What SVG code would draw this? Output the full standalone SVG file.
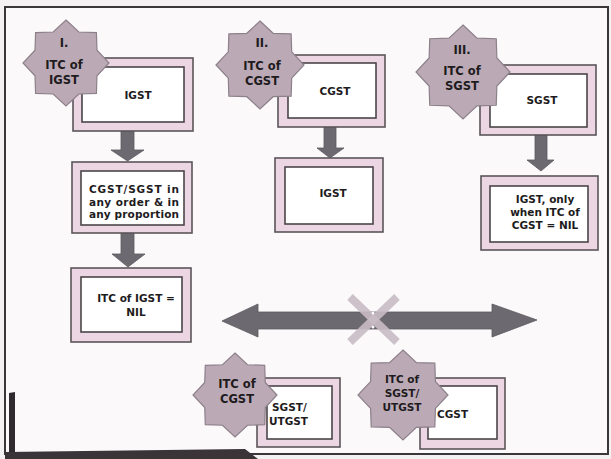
<svg xmlns="http://www.w3.org/2000/svg" width="611" height="459" viewBox="0 0 611 459">
<defs>
<style>
.bg{fill:#f4f1f3}
.frame{fill:#fcf9fb;stroke:#3a3639;stroke-width:2}
.outer{fill:#edd6e3;stroke:#5a5559;stroke-width:1.6}
.inner{fill:#ffffff;stroke:#4a4549;stroke-width:1.6}
.star{fill:#bba9b6}
.arrow{fill:#6d6970;stroke:#5c585e;stroke-width:0.8}
.t{font-family:"DejaVu Sans","Noto Sans","Liberation Sans",Arial,sans-serif;font-weight:bold;font-size:10.5px;fill:#1e1b1d;text-anchor:middle}
.st{font-family:"DejaVu Sans","Noto Sans","Liberation Sans",Arial,sans-serif;font-weight:bold;font-size:11.5px;fill:#1e1b1d;text-anchor:middle}
.tl{font-family:"DejaVu Sans","Noto Sans","Liberation Sans",Arial,sans-serif;font-weight:bold;font-size:10.5px;fill:#1e1b1d}
.x{stroke:#c9bcc5;stroke-width:8;stroke-linecap:butt;opacity:0.9}
</style>
<path id="star" stroke="#8c8089" stroke-width="1.2" vector-effect="non-scaling-stroke" d="M0,-1 L0.2985,-0.7206 L0.7071,-0.7071 L0.7206,-0.2985 L1,0 L0.7206,0.2985 L0.7071,0.7071 L0.2985,0.7206 L0,1 L-0.2985,0.7206 L-0.7071,0.7071 L-0.7206,0.2985 L-1,0 L-0.7206,-0.2985 L-0.7071,-0.7071 L-0.2985,-0.7206 Z"/>
</defs>
<rect class="bg" x="0" y="0" width="611" height="459"/>
<rect class="frame" x="5" y="7" width="603" height="447"/>
<path d="M9,393 L15,392 L15,455 L9,455 Z" fill="#2f2a2e"/>
<path d="M5,452 L245,449 L258,459 L5,459 Z" fill="#3a3438"/>

<g id="connectors">
<path class="arrow" d="M121,131 L134,131 L134,150 L144,150 L127.5,161 L111,150 L121,150 Z"/>
<path class="arrow" d="M121,233 L134,233 L134,254 L145,254 L128,267 L112,254 L121,254 Z"/>
<path class="arrow" d="M324,127 L336,127 L336,148 L344,148 L330,158 L317,148 L324,148 Z"/>
<path class="arrow" d="M535,135 L547,135 L547,160 L554,160 L541,171 L527,160 L535,160 Z"/>
<path class="arrow" d="M222,321 L258,304 L258,312 L492,312 L492,304 L537,320 L492,337 L492,329 L258,329 L258,337 Z"/>
<g id="cross">
<line class="x" x1="350" y1="297" x2="397" y2="342"/>
<line class="x" x1="397" y1="297" x2="350" y2="342"/>
<circle cx="373" cy="313" r="1.5" fill="#ffffff"/>
<circle cx="373" cy="327" r="1.5" fill="#ffffff"/>
</g>
</g>

<g id="node-i">
<rect class="outer" x="73" y="58" width="120" height="73"/>
<rect class="inner" x="82" y="67" width="102" height="55"/>
<text class="t" x="138" y="99">IGST</text>
<use href="#star" class="star" transform="translate(66,63) scale(43)"/>
<text class="st" x="64" y="47">I.</text>
<text class="st" x="64" y="69">ITC of</text>
<text class="st" x="64" y="84">IGST</text>
</g>

<g id="node-i-2">
<rect class="outer" x="72" y="162" width="120" height="71"/>
<rect class="inner" x="81" y="171" width="103" height="54"/>
<text class="tl" x="89" y="193" textLength="90" lengthAdjust="spacing">CGST/SGST   in</text>
<text class="tl" x="89" y="205.5" textLength="90" lengthAdjust="spacing">any order &amp; in</text>
<text class="tl" x="89" y="218" textLength="90" lengthAdjust="spacing">any proportion</text>
</g>

<g id="node-i-3">
<rect class="outer" x="71" y="268" width="120" height="74"/>
<rect class="inner" x="81" y="277" width="101" height="55"/>
<text class="t" x="136" y="302">ITC of IGST =</text>
<text class="t" x="136" y="316">NIL</text>
</g>

<g id="node-ii">
<rect class="outer" x="278" y="55" width="107" height="72"/>
<rect class="inner" x="288" y="63" width="88" height="55"/>
<text class="t" x="335" y="95">CGST</text>
<use href="#star" class="star" transform="translate(260,65) scale(44)"/>
<text class="st" x="262" y="47">II.</text>
<text class="st" x="262" y="70">ITC of</text>
<text class="st" x="262" y="85">CGST</text>
</g>

<g id="node-ii-2">
<rect class="outer" x="275" y="158" width="108" height="74"/>
<rect class="inner" x="285" y="167" width="88" height="57"/>
<text class="t" x="333" y="197">IGST</text>
</g>

<g id="node-iii">
<rect class="outer" x="480" y="65" width="116" height="70"/>
<rect class="inner" x="490" y="74" width="97" height="53"/>
<text class="t" x="542" y="104">SGST</text>
<use href="#star" class="star" transform="translate(463,72) scale(47)"/>
<text class="st" x="462" y="54">III.</text>
<text class="st" x="462" y="75">ITC of</text>
<text class="st" x="462" y="90">SGST</text>
</g>

<g id="node-iii-2">
<rect class="outer" x="481" y="176" width="117" height="74"/>
<rect class="inner" x="490" y="186" width="98" height="56"/>
<text class="t" x="545" y="203">IGST, only</text>
<text class="t" x="545" y="216">when ITC of</text>
<text class="t" x="545" y="229">CGST = NIL</text>
</g>

<g id="node-bottom-1">
<rect class="outer" x="257" y="378" width="83" height="69"/>
<rect class="inner" x="267" y="386" width="65" height="53"/>
<text class="tl" x="272" y="411">SGST/</text>
<text class="tl" x="269" y="425">UTGST</text>
<use href="#star" class="star" transform="translate(235,395) scale(42)"/>
<text class="st" x="237" y="388">ITC of</text>
<text class="st" x="237" y="403">CGST</text>
</g>

<g id="node-bottom-2">
<rect class="outer" x="420" y="378" width="85" height="71"/>
<rect class="inner" x="428" y="386" width="69" height="53"/>
<text class="tl" x="437" y="418">CGST</text>
<use href="#star" class="star" transform="translate(403,395) scale(45)"/>
<text class="t" x="402" y="383">ITC of</text>
<text class="t" x="402" y="397">SGST/</text>
<text class="t" x="402" y="411">UTGST</text>
</g>
</svg>
